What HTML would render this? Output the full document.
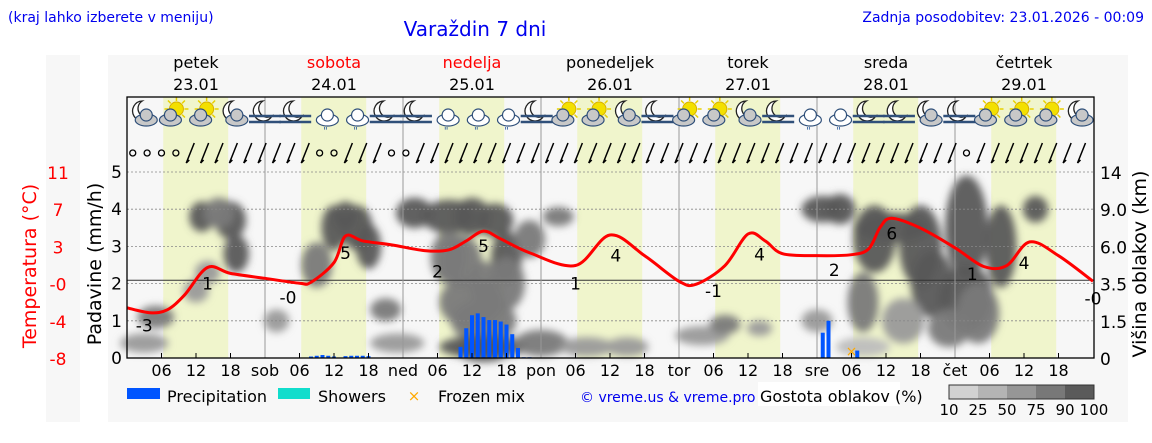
<!DOCTYPE html>
<html><head><meta charset="utf-8"><style>
body{margin:0;background:#fff;width:1152px;height:443px;overflow:hidden;font-family:"DejaVu Sans","Liberation Sans",sans-serif}
svg{position:absolute;left:0;top:0}
</style></head><body>
<svg id="c" width="1152" height="443" xmlns="http://www.w3.org/2000/svg" font-family="DejaVu Sans, Liberation Sans, sans-serif">
<defs><filter id="bl" x="-50%" y="-50%" width="200%" height="200%"><feGaussianBlur stdDeviation="4"/></filter></defs>
<rect x="46" y="55" width="34" height="367" fill="#f7f7f7"/>
<rect x="108" y="55" width="1020" height="367" fill="#f7f7f7"/>
<g id="bands"></g>
<g id="clouds" filter="url(#bl)"></g>
<g id="grid"></g>
<g id="bars"></g>
<g id="temp"></g>
<g id="icons"></g>
<g id="wind"></g>
<g id="axes"></g>
<text x="8" y="22" font-size="14" fill="#0000ee">(kraj lahko izberete v meniju)</text>
<text x="475" y="36" font-size="20" fill="#0000ee" text-anchor="middle">Varaždin 7 dni</text>
<text x="1144" y="22" font-size="14" fill="#0000ee" text-anchor="end">Zadnja posodobitev: 23.01.2026 - 00:09</text>
<text transform="translate(36,266) rotate(-90)" font-size="19" fill="#ff0000" text-anchor="middle">Temperatura (°C)</text>
<text transform="translate(101,264) rotate(-90)" font-size="19" fill="#000" text-anchor="middle">Padavine (mm/h)</text>
<text transform="translate(1146,264) rotate(-90)" font-size="19" fill="#000" text-anchor="middle">Višina oblakov (km)</text>
<g>
<rect x="127" y="388" width="33" height="11" fill="#0055ff"/>
<text x="167" y="402" font-size="16">Precipitation</text>
<rect x="278" y="388" width="32" height="11" fill="#11ddcc"/>
<text x="318" y="402" font-size="16">Showers</text>
<text x="414" y="401" font-size="15" fill="#ffaa00" text-anchor="middle">×</text>
<text x="438" y="402" font-size="16">Frozen mix</text>
<text x="580" y="402" font-size="14" fill="#0000ee">© vreme.us &amp; vreme.pro</text>
<rect x="758" y="382" width="142" height="24" fill="#fff"/>
<text x="760" y="402" font-size="16">Gostota oblakov (%)</text>
<g id="scale"></g>
</g>
</svg>
<script>
const hours=[0,4,7,10,14,18,24,30,32,36,38,41,46,52,56,59,62,65,70,78,84,90,96,99,104,108,111,114,120,126,129,131,133,138,144,149,153,157,162,168];
const temps=[-2.8,-3.3,-3.0,-1.5,1.3,0.7,0.2,-0.3,-0.2,1.8,4.5,4.0,3.6,3.0,3.1,4.0,5.0,4.2,2.8,1.5,4.6,2.5,-0.1,-0.4,1.5,4.7,4.0,2.7,2.5,2.6,3.2,5.4,6.3,5.3,3.3,1.4,1.5,3.9,2.5,-0.1];
const precipHours=[32,33,34,35,36,38,39,40,41,42,58,59,60,61,62,63,64,65,66,67,68,69,70,121,122,127];
const precipVals=[0.04,0.06,0.08,0.06,0.04,0.05,0.06,0.06,0.06,0.05,0.3,0.8,1.15,1.2,1.1,1.02,1.02,0.98,0.9,0.64,0.27,0.02,0.02,0.68,1.0,0.2];
const frozenHours=[126];
const labelHours=[3,14,28,38,54,62,78,85,102,110,123,133,147,156,168];
const labelVals=["-3","1","-0","5","2","5","1","4","-1","4","2","6","1","4","-0"];
const labelOffsets=[15,17,17,18,22,16,19,18,19,17,16,16,16,16,18];
const dayNames=["petek","sobota","nedelja","ponedeljek","torek","sreda","četrtek"];
const dayDates=["23.01","24.01","25.01","26.01","27.01","28.01","29.01"];
const dayShort=["","sob","ned","pon","tor","sre","čet"];
const precipTicks=[0,1,2,3,4,5];
const tempTicks=["11","7","3","-0","-4","-8"];
const heightTicks=["0","1.5","3.5","6.0","9.0","14"];
const scaleLabels=["10","25","50","75","90","100"];
// cloud blobs: hour, level(0-5 axis units), widthHours, heightUnits, darkness
const cloudHours=[3,5,13,18,19,16,33,36,38,40,42,45,50,56,60,64,66,70,75,60,62,58,56,66,62,72,100,104,110,121,124,133,130,138,140,146,146,148,152,158,62,62,135,143,128,12,14,26,47,80,87,120,128];
const cloudLevels=[0.4,1.1,3.8,3.7,2.8,3.9,2.5,3.5,3.8,3.5,3.0,1.3,3.9,3.8,3.8,3.7,2.7,3.2,3.8,1.5,1.0,2.6,2.7,2.0,0.3,0.4,0.6,0.9,0.8,4.0,4.0,3.5,3.2,3.0,2.0,3.5,1.6,1.2,3.0,4.0,0.2,2.0,1.0,0.8,1.5,1.8,2.3,1.0,0.4,0.3,0.3,1.0,0.3];
const cloudW=[7,5,3,4,3,4,4,3,3,4,3,4,5,8,5,5,4,4,4,10,10,6,5,5,14,8,8,4,3,6,4,12,6,6,6,6,8,6,4,3,8,4,6,6,4,3,3,3,8,8,6,4,8];
const cloudH=[0.3,0.4,0.6,0.8,0.8,0.6,1.0,1.0,0.6,1.0,1.0,0.4,0.6,0.7,0.8,0.7,1.2,0.8,0.3,1.2,1.0,1.2,1.2,1.2,0.4,0.5,0.3,0.3,0.2,0.5,0.6,0.6,1.6,2.0,1.6,2.6,1.6,1.4,2.0,0.5,0.4,1.0,1.0,0.8,1.4,0.4,0.4,0.4,0.3,0.3,0.3,0.4,0.3];
const cloudD=[0.5,0.6,0.8,0.9,0.8,0.7,0.7,0.8,0.9,0.8,0.8,0.6,0.9,0.9,0.9,0.9,0.8,0.7,0.7,0.6,0.7,0.7,0.7,0.6,0.8,0.6,0.4,0.7,0.4,0.9,0.9,0.95,0.9,0.9,0.8,0.95,0.8,0.7,0.9,0.8,0.8,0.6,0.5,0.6,0.6,0.4,0.4,0.4,0.5,0.4,0.4,0.4,0.3];
const iconKinds="mssmffrrffrrrfssmfssmfrrffmfsssm".split("");

const NS="http://www.w3.org/2000/svg";
const X0=127,PX=5.75,Y0=358,PY=37.2,TOP=97,RIGHT=1094;
const xs=h=>X0+h*PX, yp=v=>Y0-v*PY, yt=t=>359-(t+8)*9.84;
function mk(tag,attrs,parent,txt){const e=document.createElementNS(NS,tag);for(const k in attrs)e.setAttribute(k,attrs[k]);if(txt!==undefined)e.textContent=txt;document.getElementById(parent).appendChild(e);return e;}
function tempAt(h){for(let i=1;i<hours.length;i++){if(h<=hours[i]){const f=(h-hours[i-1])/(hours[i]-hours[i-1]);return temps[i-1]+f*(temps[i]-temps[i-1]);}}return temps[temps.length-1];}
for(let d=0;d<7;d++){
 const b=mk('rect',{x:xs(d*24+6.3),y:TOP,width:11.3*PX,height:Y0-TOP,fill:"#f0f5cc"},'bands');
 
 
 const c=(d==1||d==2)?"#ff0000":"#000";
 const n=mk('text',{x:xs(d*24+12),y:68,"font-size":16,"text-anchor":"middle",fill:c},'axes',dayNames[d]);
 
 
 const t=mk('text',{x:xs(d*24+12),y:90,"font-size":16,"text-anchor":"middle"},'axes',dayDates[d]);
 
 
}
const shades=["#d6d6d6","#bdbdbd","#9a9a9a","#7a7a7a","#5a5a5a"];
for(let i=0;i<cloudHours.length;i++){
 const e=mk('ellipse',{cx:xs(cloudHours[i]),cy:yp(cloudLevels[i]),rx:cloudW[i]*PX/2+4,ry:cloudH[i]*PY/2+4,fill:shades[Math.min(4,Math.floor(cloudD[i]*5))],opacity:0.95},'clouds');
 
 
}
precipTicks.forEach(v=>{
 if(v>0){const g=mk('line',{x1:X0,x2:RIGHT,y1:yp(v),y2:yp(v),stroke:"#888","stroke-width":0.8,"stroke-dasharray":"2,2"},'grid');
 }
 const l=mk('text',{x:122,y:yp(v)+6,"font-size":17,"text-anchor":"end"},'axes',String(v));
 
 
});
tempTicks.forEach((s,i)=>{const l=mk('text',{x:58,y:yp(5-i)+7,"font-size":17,fill:"#ff0000","text-anchor":"middle"},'axes',s);
 
 });
heightTicks.forEach((s,i)=>{const l=mk('text',{x:1100,y:yp(i)+7,"font-size":17},'axes',s);
 
 });
const zl=mk('line',{x1:X0,x2:RIGHT,y1:yt(0),y2:yt(0),stroke:"#333","stroke-width":1},'grid');


for(let d=1;d<7;d++){const v=mk('line',{x1:xs(d*24),x2:xs(d*24),y1:TOP,y2:Y0,stroke:"#999","stroke-width":1},'grid');
 }
for(let h=0;h<=168;h+=6){
 const tk=mk('line',{x1:xs(h),x2:xs(h),y1:Y0-(h%24==0?0:5),y2:Y0,stroke:"#000"},'axes');
 
 if(h>0&&h<168){const lbl=h%24==0?dayShort[h/24]:String(h%24).padStart(2,'0');
 const t=mk('text',{x:xs(h),y:376,"font-size":16,"text-anchor":"middle"},'axes',lbl);
 }
}
precipHours.forEach((h,i)=>{const hgt=precipVals[i]*PY;
 const b=mk('rect',{x:xs(h)-2,y:Y0-hgt,width:4,height:hgt,fill:"#0055ff"},'bars');
 });
frozenHours.forEach(h=>{const f=mk('text',{x:xs(h),y:Y0-2,"font-size":14,fill:"#ffaa00","text-anchor":"middle"},'bars','×');
 });
// smooth temperature line (catmull-rom)
const P=hours.map((h,i)=>[xs(h),yt(temps[i])]);
let d="M"+P[0][0]+","+P[0][1];
for(let i=0;i<P.length-1;i++){const p0=P[Math.max(0,i-1)],p1=P[i],p2=P[i+1],p3=P[Math.min(P.length-1,i+2)];
 const c1=[p1[0]+(p2[0]-p0[0])/6,p1[1]+(p2[1]-p0[1])/6],c2=[p2[0]-(p3[0]-p1[0])/6,p2[1]-(p3[1]-p1[1])/6];
 d+=` C${c1[0]},${c1[1]} ${c2[0]},${c2[1]} ${p2[0]},${p2[1]}`;}
const tl=mk('path',{d:d,fill:"none",stroke:"#ff0000","stroke-width":3,"stroke-linejoin":"round"},'temp');


labelHours.forEach((h,i)=>{const t=mk('text',{x:Math.min(xs(h),1093),y:yt(tempAt(h))+labelOffsets[i]+5,"font-size":17,"text-anchor":"middle"},'temp',labelVals[i]);
 });
iconKinds.forEach((k,i)=>{
 const cx=xs(3+i*5.25),cy=115;
 const g=mk('g',{},'icons');
 
 
 const add=(t,a)=>{const e=document.createElementNS(NS,t);for(const q in a)e.setAttribute(q,a[q]);g.appendChild(e);};
 if(k=='m'||k=='f'){add('path',{d:`M${cx-2},${cy-14} a10,10 0 1 0 9,15 a8,8 0 1 1 -9,-15z`,fill:"#fff",stroke:"#222","stroke-width":1.3});}
 if(k=='s'){for(let a=0;a<8;a++){const an=a*Math.PI/4;add('line',{x1:cx+2+Math.cos(an)*8,y1:cy-6+Math.sin(an)*8,x2:cx+2+Math.cos(an)*12,y2:cy-6+Math.sin(an)*12,stroke:"#e8d000","stroke-width":1.5});}
  add('circle',{cx:cx+2,cy:cy-6,r:7,fill:"#f3e000",stroke:"#d8b000"});}
 if(k=='m'||k=='s'||k=='r'){add('ellipse',{cx:cx-(k=='s'?4:-2),cy:cy+5,rx:11,ry:6,fill:k=='r'?"#fff":"#c8c8c8",stroke:"#30507a","stroke-width":1.2});
  add('circle',{cx:cx-(k=='s'?4:-2),cy:cy,r:6,fill:k=='r'?"#fff":"#c8c8c8",stroke:"#30507a","stroke-width":1.2});}
 if(k=='r'){add('text',{x:cx,y:cy+19,"font-size":10,fill:"#3060a0","text-anchor":"middle"}); g.lastChild.textContent='"';}
 if(k=='f'){[cy+1,cy+7].forEach(y=>add('line',{x1:cx-16,x2:cx+16,y1:y,y2:y,stroke:"#30507a","stroke-width":2.5}));}
});
for(let h=0;h<=166;h+=2.5){
 const x=xs(h+1),y=153;
 if(h<10||(h>32&&h<36)||(h>44&&h<48)||(h>143&&h<147)){const c=mk('circle',{cx:x,cy:y,r:3,fill:"none",stroke:"#000","stroke-width":1.3},'wind');
  }
 else{const l=mk('line',{x1:x-4,y1:y+10,x2:x+4,y2:y-10,stroke:"#000","stroke-width":1.5},'wind');
  
  mk('line',{x1:x-4,y1:y+10,x2:x-1,y2:y+7,stroke:"#000","stroke-width":1.5},'wind');}
}
const fr=mk('rect',{x:X0,y:TOP,width:RIGHT-X0,height:Y0-TOP,fill:"none",stroke:"#000","stroke-width":1.3},'axes');


const sc=["#d2d2d2","#b4b4b4","#969696","#787878","#5a5a5a"];
sc.forEach((c,i)=>{const r=mk('rect',{x:949+i*29,y:385,width:29,height:14,fill:c},'scale');
 });
mk('rect',{x:949,y:385,width:145,height:14,fill:"none",stroke:"#333"},'scale');
scaleLabels.forEach((s,i)=>{const t=mk('text',{x:949+i*29,y:415,"font-size":15,"text-anchor":"middle"},'scale',s);
 });
</script>
</body></html>
